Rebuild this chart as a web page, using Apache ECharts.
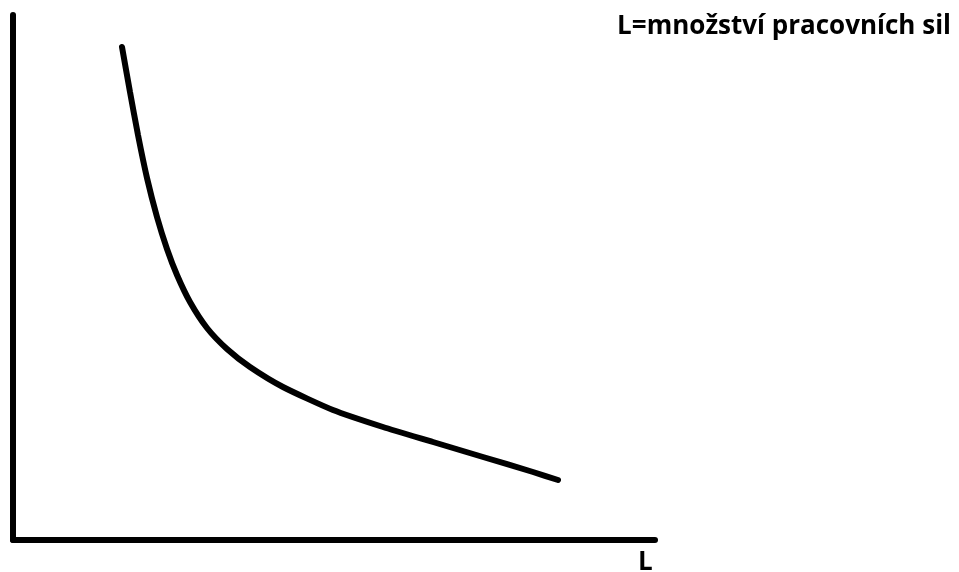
<!DOCTYPE html>
<html>
<head>
<meta charset="utf-8">
<script src="https://cdn.jsdelivr.net/npm/echarts@6/dist/echarts.min.js"></script>
<style>
  html, body { margin: 0; padding: 0; background: #fff; }
  #chart { width: 959px; height: 572px; }
</style>
</head>
<body>
<div id="chart"></div>
<script>
// body of the curve (L vs. y)
const curveX = [109, 117, 125, 134, 144, 154, 164, 177, 194, 214, 237, 270, 320, 370, 420, 470, 520, 545];
const curveY = [493, 448, 405, 362, 323, 291, 265, 238, 212, 191, 173, 153, 130, 113, 98, 83, 68, 60];

const legendNote = "L=množství pracovních sil";
const xName = "L";

const chart = echarts.init(document.getElementById("chart"), null, { renderer: "canvas" });

chart.setOption({
  animation: false,
  title: [
    {
      text: legendNote,
      right: 3,
      top: 9,
      textStyle: { fontFamily: "Open Sans", fontWeight: "bold", fontSize: 26, color: "#000" }
    },
    {
      text: xName,
      left: 633,
      top: 545,
      textStyle: { fontFamily: "Open Sans", fontWeight: "bold", fontSize: 26, color: "#000" }
    }
  ],
  grid: { left: 13, right: 304, top: 15, bottom: 32 },
  xAxis: {
    type: "value",
    min: 0,
    max: 642,
    axisLine: { show: true, lineStyle: { color: "#000", width: 6, cap: "round" } },
    axisTick: { show: false },
    axisLabel: { show: false },
    splitLine: { show: false }
  },
  yAxis: {
    type: "value",
    min: 0,
    max: 525,
    axisLine: { show: true, lineStyle: { color: "#000", width: 6 } },
    axisTick: { show: false },
    axisLabel: { show: false },
    splitLine: { show: false }
  },
  series: [
    {
      type: "line",
      data: curveX.map((x, i) => [x, curveY[i]]),
      smooth: 0.2,
      symbol: "none",
      lineStyle: { color: "#000", width: 6, cap: "round" }
    }
  ]
});
</script>
</body>
</html>
